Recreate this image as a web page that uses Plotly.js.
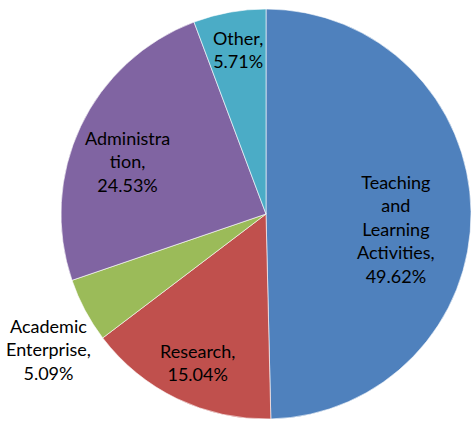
<!DOCTYPE html>
<html>
<head>
<meta charset="utf-8">
<script src="https://cdn.plot.ly/plotly-3.0.1.min.js"></script>
<style>
  html, body { margin:0; padding:0; background:#fff; }
  #chart { width:471px; height:421px; }
</style>
</head>
<body>
<div id="chart"></div>
<script>
const categories = ["Teaching and Learning Activities", "Research", "Academic Enterprise", "Administration", "Other"];
const values = [49.62, 15.04, 5.09, 24.53, 5.71];
// label text as wrapped in the original chart
const labelLines = [
  ["Teaching", "and", "Learning", "Activities,"],
  ["Research,"],
  ["Academic", "Enterprise,"],
  ["Administra", "tion,"],
  ["Other,"]
];
const colors = ["#4F81BD", "#C0504D", "#9BBB59", "#8064A2", "#4BACC6"];

// label anchor spots (px in the 471x421 frame)
const labelPos = [[396, 229], [197, 362], [48, 349], [127, 162], [238, 50]];

const W = 471, H = 421;
const cx = 266, cy = 214, r = 205;

const annotations = categories.map((c, i) => ({
  xref: "paper", yref: "paper",
  x: labelPos[i][0] / W, y: 1 - labelPos[i][1] / H,
  xanchor: "center", yanchor: "middle",
  showarrow: false, align: "center",
  text: labelLines[i].concat(values[i].toFixed(2) + "%").join("<br>"),
  font: { family: "Lato, 'Open Sans', sans-serif", size: 18, color: "#000" }
}));

Plotly.newPlot("chart", [{
  type: "pie",
  labels: categories,
  values: values,
  sort: false,
  direction: "clockwise",
  rotation: 0,
  textinfo: "none",
  hoverinfo: "skip",
  marker: { colors: colors, line: { color: "rgba(255,255,255,0.6)", width: 1 } },
  domain: { x: [(cx - r) / W, Math.min(1, (cx + r) / W)], y: [(H - cy - r) / H, (H - cy + r) / H] }
}], {
  width: W, height: H,
  margin: { t:0, r:0, b:0, l:0 },
  showlegend: false,
  paper_bgcolor: "#fff",
  annotations: annotations
}, { displayModeBar: false, staticPlot: true });
</script>
</body>
</html>
